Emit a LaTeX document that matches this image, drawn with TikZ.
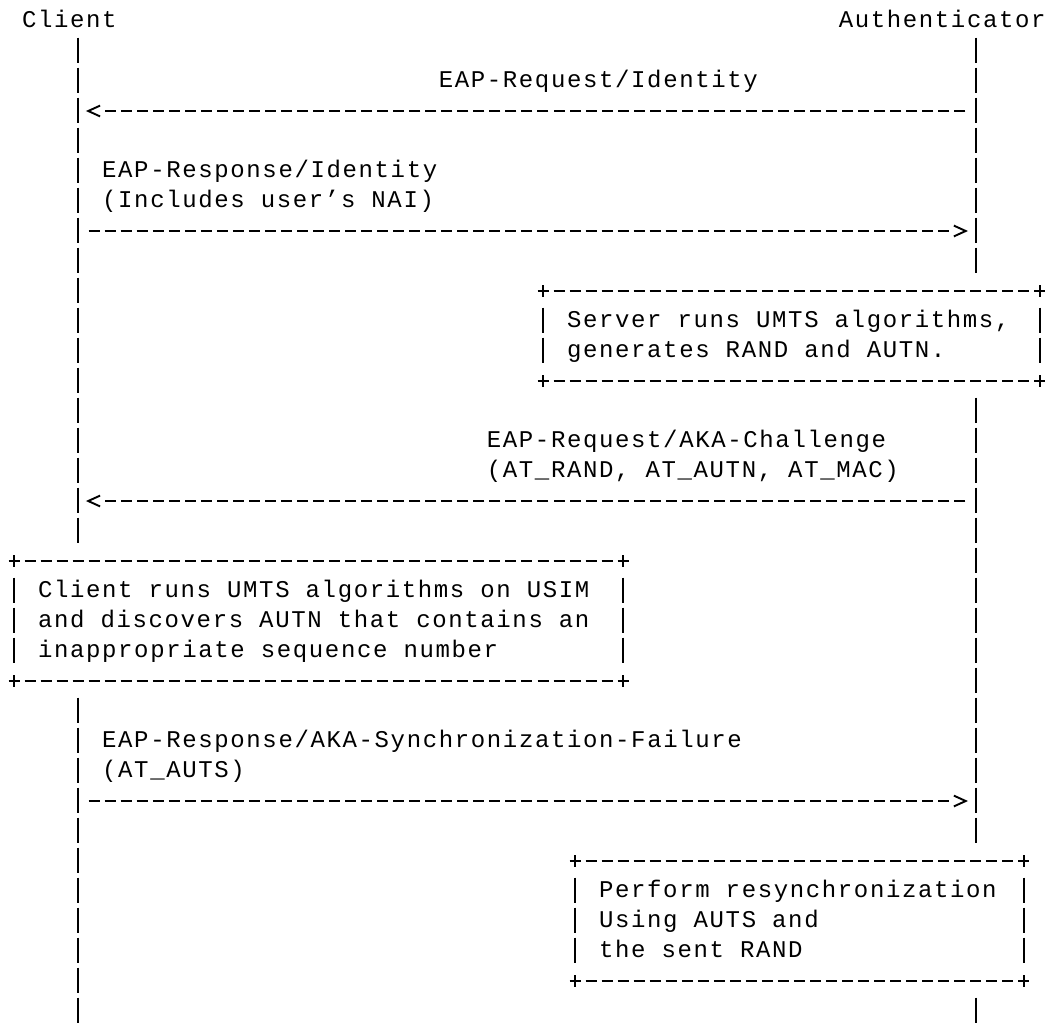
\documentclass[tikz,border=0pt]{standalone}
\usepackage{fontspec}
% monospaced labels on a 16.03pt x 30pt character grid
\newfontfamily\asciifont{Liberation Mono}[LetterSpace=6.8]
\begin{document}
\begin{tikzpicture}[
  x=16.03pt, y=-30pt,
  line width=1.9pt,
  txt/.style={font=\asciifont\fontsize{24}{30}\selectfont, anchor=base west,
              inner sep=0pt, outer sep=0pt},
  life/.style={dash pattern=on 25.5pt off 4.5pt},
  rule/.style={dash pattern=on 11pt off 5.03pt},
  msg/.style={rule, shorten <=10.53pt, shorten >=26.56pt},
  chev/.style={line join=miter},
]
% canvas: column c is centred at x=c, row r has its baseline at y=r
\path[use as bounding box, fill=white] (-0.8734,-0.9) rectangle (64.504,33.3);

% ---------- participants ----------
\node[txt] (client) at (0.5,0) {Client};
\node[txt] (auth) at (51.45,0) {Authenticator};

% ---------- lifelines ----------
\coordinate (cl-a) at (4,0.35);  \coordinate (cl-b) at (4,17.2);
\coordinate (cl-c) at (4,22.35); \coordinate (cl-d) at (4,33.2);
\coordinate (au-a) at (60,0.35);  \coordinate (au-b) at (60,8.2);
\coordinate (au-c) at (60,12.35); \coordinate (au-d) at (60,27.2);
\coordinate (au-e) at (60,32.35); \coordinate (au-f) at (60,33.2);
\draw[life] (cl-a) -- (cl-b);
\draw[life] (cl-c) -- (cl-d);
\draw[life] (au-a) -- (au-b);
\draw[life] (au-c) -- (au-d);
\draw[life] (au-e) -- (au-f);

% ---------- boxes drawn as +---+ frames ----------
\newcommand\asciibox[4]{%
  \draw[rule] (#1-0.343,#2-0.2) -- (#3+0.343,#2-0.2);
  \draw[rule] (#1-0.343,#4-0.2) -- (#3+0.343,#4-0.2);
  \foreach \xx in {#1,#3} {
    \draw (\xx,#2-0.39) -- (\xx,#2-0.01);
    \draw (\xx,#4-0.39) -- (\xx,#4-0.01);
    \draw[life] (\xx,#2+0.35) -- (\xx,#4-0.8);
  }%
}
\asciibox{33}{9}{64}{12}
\asciibox{0}{18}{38}{22}
\asciibox{35}{28}{63}{32}

\node[txt] (srv1) at (34.5,10) {Server runs UMTS algorithms,};
\node[txt] (srv2) at (34.5,11) {generates RAND and AUTN.};
\node[txt] (cli1) at (1.5,19) {Client runs UMTS algorithms on USIM};
\node[txt] (cli2) at (1.5,20) {and discovers AUTN that contains an};
\node[txt] (cli3) at (1.5,21) {inappropriate sequence number};
\node[txt] (rsy1) at (36.5,29) {Perform resynchronization};
\node[txt] (rsy2) at (36.5,30) {Using AUTS and};
\node[txt] (rsy3) at (36.5,31) {the sent RAND};

% ---------- messages ----------
\foreach \r in {3,7,16,26} {
  \coordinate (c\r) at (4,\r-0.2);
  \coordinate (a\r) at (60,\r-0.2);
}
% towards the client
\draw[msg] (a3) -- (c3);
\draw[chev] ([shift={(1.37,-0.18)}]c3) -- ([shift={(0.63,0)}]c3) -- ([shift={(1.37,0.18)}]c3);
\draw[msg] (a16) -- (c16);
\draw[chev] ([shift={(1.37,-0.18)}]c16) -- ([shift={(0.63,0)}]c16) -- ([shift={(1.37,0.18)}]c16);
% towards the authenticator
\draw[msg] (c7) -- (a7);
\draw[chev] ([shift={(-1.37,-0.18)}]a7) -- ([shift={(-0.63,0)}]a7) -- ([shift={(-1.37,0.18)}]a7);
\draw[msg] (c26) -- (a26);
\draw[chev] ([shift={(-1.37,-0.18)}]a26) -- ([shift={(-0.63,0)}]a26) -- ([shift={(-1.37,0.18)}]a26);

% ---------- message labels ----------
\node[txt] (m1) at (26.5,2) {EAP-Request/Identity};
\node[txt] (m2a) at (5.5,5) {EAP-Response/Identity};
\node[txt] (m2b) at (5.5,6) {(Includes user’s NAI)};
\node[txt] (m3a) at (29.5,14) {EAP-Request/AKA-Challenge};
\node[txt] (m3b) at (29.5,15) {(AT\_RAND, AT\_AUTN, AT\_MAC)};
\node[txt] (m4a) at (5.5,24) {EAP-Response/AKA-Synchronization-Failure};
\node[txt] (m4b) at (5.5,25) {(AT\_AUTS)};
\end{tikzpicture}
\end{document}
